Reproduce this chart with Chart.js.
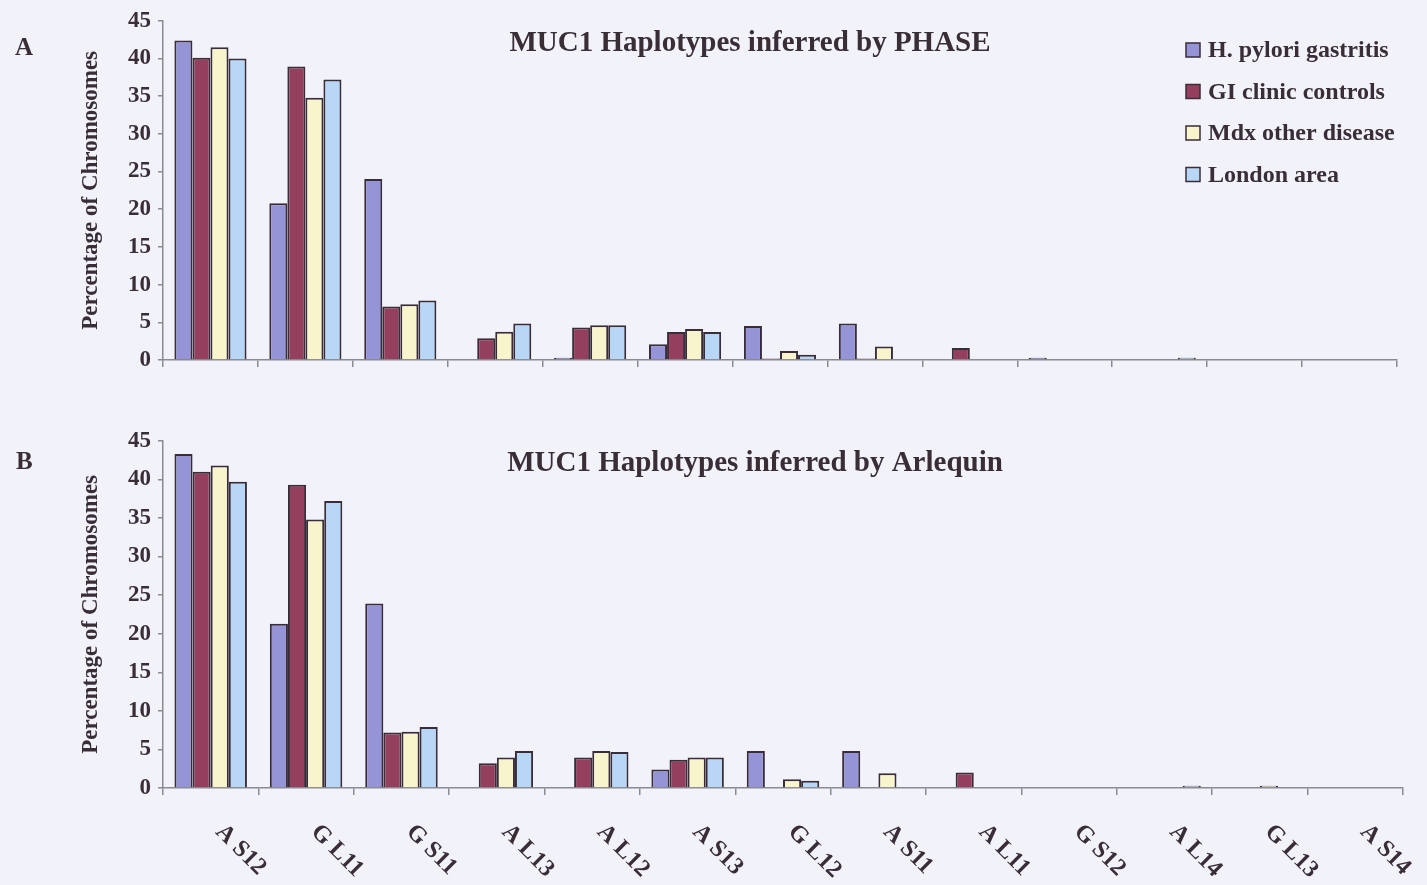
<!DOCTYPE html>
<html>
<head>
<meta charset="utf-8">
<script src="https://cdn.jsdelivr.net/npm/chart.js@4"></script>
<style>
  html, body { margin: 0; padding: 0; background: #f2f2fa; }
  #wrap { position: relative; width: 1427px; height: 885px; overflow: hidden; }
  #c1 { position: absolute; left: 0; top: 0; }
  #c2 { position: absolute; left: 0; top: 420px; }
</style>
</head>
<body>
<div id="wrap">
  <canvas id="c1" width="1427" height="420"></canvas>
  <canvas id="c2" width="1427" height="465"></canvas>
</div>
<script>
// ---- data ----
const categories = ["A S12", "G L11", "G S11", "A L13", "A L12", "A S13", "G L12", "A S11", "A L11", "G S12", "A L14", "G L13", "A S14"];
const seriesNames = ["H. pylori gastritis", "GI clinic controls", "Mdx other disease", "London area"];
const yTicks = [0, 5, 10, 15, 20, 25, 30, 35, 40, 45];

// Panel A: PHASE
const phaseHPylori = [42.4, 20.8, 24.0, 0, 0.3, 2.1, 4.5, 4.85, 0, 0.3, 0, 0, 0];
const phaseGIClinic = [40.1, 38.95, 7.1, 2.9, 4.3, 3.7, 0.2, 0.2, 1.6, 0, 0, 0, 0];
const phaseMdx = [41.5, 34.8, 7.4, 3.75, 4.6, 4.1, 1.2, 1.8, 0, 0, 0, 0, 0];
const phaseLondon = [40.0, 37.2, 7.9, 4.85, 4.6, 3.7, 0.7, 0, 0, 0, 0.3, 0, 0];

// Panel B: Arlequin
const arlHPylori = [43.3, 21.3, 23.9, 0, 0, 2.4, 4.8, 4.8, 0, 0, 0, 0, 0];
const arlGIClinic = [41.0, 39.3, 7.2, 3.2, 3.95, 3.65, 0, 0, 2.0, 0, 0, 0, 0];
const arlMdx = [41.8, 34.8, 7.3, 3.95, 4.8, 3.95, 1.15, 1.9, 0, 0, 0, 0.3, 0];
const arlLondon = [39.7, 37.2, 7.9, 4.8, 4.65, 3.95, 0.95, 0, 0, 0, 0.3, 0, 0];

// ---- styles ----
const fills = ["#9594d6", "#943f5e", "#f8f4cc", "#b8d6f5"];
const edge = "#3a2d3a";
const textCol = "#3a2e36";
const axisCol = "#8a8a92";
const serif = "'Liberation Serif', 'Times New Roman', serif";

function makeDatasets(arrs) {
  return arrs.map((d, i) => ({
    label: seriesNames[i],
    data: d,
    backgroundColor: fills[i],
    borderColor: edge,
    borderWidth: 2,
    borderSkipped: 'start',
    categoryPercentage: 0.76,
    barPercentage: 1.0
  }));
}

const decor = {
  id: 'decor',
  afterDraw(chart, args, o) {
    const ctx = chart.ctx;
    ctx.save();
    ctx.fillStyle = textCol;
    // panel letter
    ctx.font = "bold 25px " + serif;
    ctx.textAlign = 'left';
    ctx.textBaseline = 'alphabetic';
    ctx.fillText(o.letter, o.letterX, o.letterY);
    // title
    ctx.font = "bold 29px " + serif;
    ctx.textAlign = 'center';
    ctx.fillText(o.title, o.titleX, o.titleY);
    // legend
    if (o.legend) {
      ctx.font = "bold 24px " + serif;
      ctx.textAlign = 'left';
      ctx.textBaseline = 'middle';
      chart.data.datasets.forEach((ds, i) => {
        const cy = o.legendY + i * o.legendGap;
        ctx.fillStyle = ds.backgroundColor;
        ctx.fillRect(o.legendX, cy - 7, 14, 14);
        ctx.strokeStyle = edge;
        ctx.lineWidth = 1.5;
        ctx.strokeRect(o.legendX, cy - 7, 14, 14);
        ctx.fillStyle = textCol;
        ctx.fillText(ds.label, o.legendX + 22, cy + 1);
      });
    }
    // rotated category labels
    if (o.xLabels) {
      const xs = chart.scales.x;
      ctx.font = "bold 24px " + serif;
      ctx.textAlign = 'left';
      ctx.textBaseline = 'top';
      ctx.fillStyle = textCol;
      chart.data.labels.forEach((lab, i) => {
        const px = xs.getPixelForValue(i);
        ctx.save();
        ctx.translate(px + o.xLabelDX, chart.chartArea.bottom + o.xLabelDY);
        ctx.rotate(Math.PI / 4);
        ctx.fillText(lab, 0, 0);
        ctx.restore();
      });
    }
    ctx.restore();
  }
};

function makeChart(id, arrs, xHeight, padRight, decorOpts) {
  return new Chart(document.getElementById(id), {
    type: 'bar',
    data: { labels: categories, datasets: makeDatasets(arrs) },
    plugins: [decor],
    options: {
      responsive: false,
      animation: false,
      layout: { padding: { left: 77, right: padRight, top: 20, bottom: 0 } },
      plugins: {
        legend: { display: false },
        tooltip: { enabled: false },
        decor: decorOpts
      },
      scales: {
        x: {
          afterFit: s => { s.height = xHeight; },
          grid: { display: true, drawOnChartArea: false, drawTicks: true, tickLength: 7, color: axisCol, lineWidth: 1.5, offset: true },
          border: { display: true, color: axisCol, width: 1.5 },
          ticks: { display: false }
        },
        y: {
          min: 0, max: 45,
          afterFit: s => { s.width = 86; },
          afterBuildTicks: s => { s.ticks = yTicks.map(v => ({ value: v })); },
          grid: { display: true, drawOnChartArea: false, drawTicks: true, tickLength: 5, color: axisCol, lineWidth: 1.5 },
          border: { display: true, color: axisCol, width: 1.5 },
          ticks: { color: textCol, padding: 7, font: { family: serif, weight: 'bold', size: 23 } },
          title: { display: true, text: 'Percentage of Chromosomes', color: textCol, padding: { top: 0, bottom: 0 }, font: { family: serif, weight: 'bold', size: 23 } }
        }
      }
    }
  });
}

makeChart('c1', [phaseHPylori, phaseGIClinic, phaseMdx, phaseLondon], 60, 30, {
  letter: 'A', letterX: 15, letterY: 55,
  title: 'MUC1 Haplotypes inferred by PHASE', titleX: 750, titleY: 51,
  legend: true, legendX: 1186, legendY: 50, legendGap: 41.5,
  xLabels: false
});

makeChart('c2', [arlHPylori, arlGIClinic, arlMdx, arlLondon], 97, 24, {
  letter: 'B', letterX: 16, letterY: 49,
  title: 'MUC1 Haplotypes inferred by Arlequin', titleX: 755, titleY: 51,
  legend: false,
  xLabels: true, xLabelDX: 17, xLabelDY: 32
});
</script>
</body>
</html>
